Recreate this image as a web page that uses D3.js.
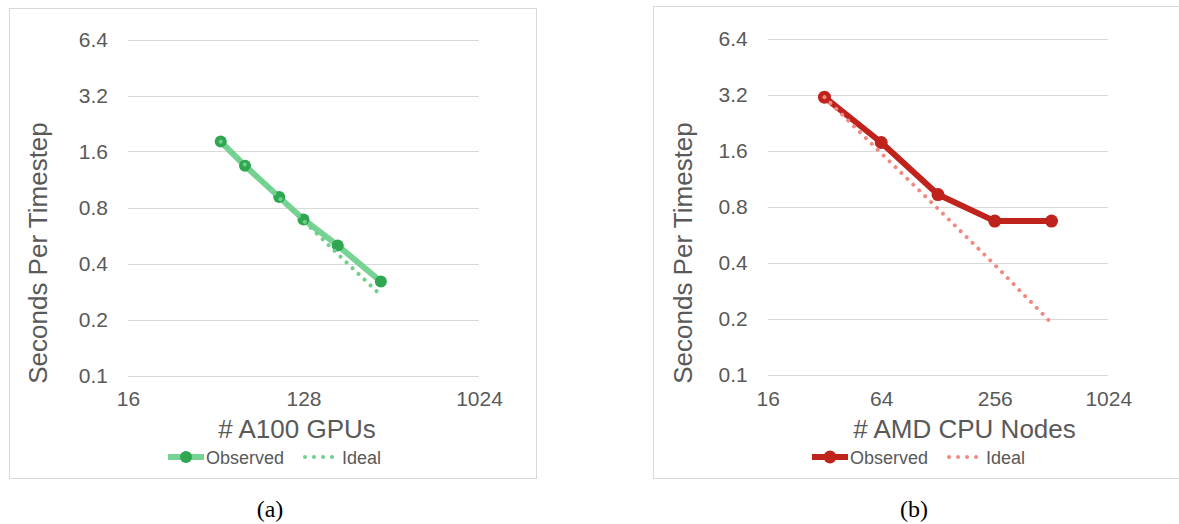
<!DOCTYPE html>
<html>
<head>
<meta charset="utf-8">
<script src="https://cdn.jsdelivr.net/npm/d3@7"></script>
<style>
  body { margin: 0; background: #fff; }
  text { font-family: "Liberation Sans", Arial, sans-serif; fill: #595959; }
  .caption { font-family: "Liberation Serif", "DejaVu Serif", serif; fill: #000; }
</style>
</head>
<body>
<div id="chart"></div>
<script>
// ---- data ----
const yTicks = [0.1, 0.2, 0.4, 0.8, 1.6, 3.2, 6.4];

// (a) A100 GPUs
const gpuCounts   = [48, 64, 96, 128, 192, 320];
const gpuObserved = [1.81, 1.34, 0.91, 0.69, 0.50, 0.32];
const gpuIdeal    = [1.81, 1.36, 0.90, 0.68, 0.45, 0.27];
const gpuXTicks   = [16, 128, 1024];

// (b) AMD CPU nodes
const cpuCounts   = [32, 64, 128, 256, 512];
const cpuObserved = [3.1, 1.77, 0.93, 0.67, 0.67];
const cpuIdeal    = [3.1, 1.55, 0.78, 0.39, 0.19];
const cpuXTicks   = [16, 64, 256, 1024];

const svg = d3.select("#chart")
  .append("svg")
    .attr("width", 1179)
    .attr("height", 524);

function drawPanel(p) {
  const g = svg.append("g");

  // panel frame
  g.append("rect")
    .attr("x", p.box[0] + 0.5).attr("y", p.box[1] + 0.5)
    .attr("width", p.box[2] - p.box[0]).attr("height", p.box[3] - p.box[1])
    .attr("fill", "#fff")
    .attr("stroke", "#d9d9d9")
    .attr("stroke-width", 1);

  const x = d3.scaleLog().base(2)
    .domain([16, 1024])
    .range([p.left, p.right]);
  const y = d3.scaleLog().base(2)
    .domain([0.1, 6.4])
    .range([p.bottom, p.top]);

  // horizontal gridlines
  g.selectAll(".grid")
    .data(yTicks)
    .join("line")
      .attr("x1", p.left).attr("x2", p.right)
      .attr("y1", d => Math.round(y(d)) + 0.5)
      .attr("y2", d => Math.round(y(d)) + 0.5)
      .attr("stroke", "#d9d9d9")
      .attr("stroke-width", 1);

  // Y axis labels
  const yAxis = g.append("g")
    .attr("transform", `translate(${p.left},0)`)
    .call(d3.axisLeft(y).tickValues(yTicks).tickFormat(d3.format(".1f")).tickSize(0).tickPadding(20));
  yAxis.select(".domain").remove();
  yAxis.selectAll("text")
    .style("font-size", "21px")
    .style("font-family", "'Liberation Sans', Arial, sans-serif")
    .attr("fill", "#595959");

  // X axis labels
  const xAxis = g.append("g")
    .attr("transform", `translate(0,${p.bottom})`)
    .call(d3.axisBottom(x).tickValues(p.xTicks).tickFormat(d3.format("d")).tickSize(0).tickPadding(16));
  xAxis.select(".domain").remove();
  xAxis.selectAll("text")
    .style("font-size", "21px")
    .style("font-family", "'Liberation Sans', Arial, sans-serif")
    .attr("fill", "#595959");

  // axis titles
  g.append("text")
    .attr("transform", `translate(${p.yTitleX},253) rotate(-90)`)
    .attr("text-anchor", "middle")
    .style("font-size", "26px")
    .text("Seconds Per Timestep");

  g.append("text")
    .attr("x", p.xTitleX)
    .attr("y", 438)
    .attr("text-anchor", "middle")
    .style("font-size", "26px")
    .text(p.xTitle);

  const obs = p.counts.map((c, i) => ({ n: c, v: p.observed[i] }));
  const ideal = p.counts.map((c, i) => ({ n: c, v: p.ideal[i] }));
  const line = d3.line().x(d => x(d.n)).y(d => y(d.v));

  // observed line + markers
  g.append("path")
    .datum(obs)
    .attr("fill", "none")
    .attr("stroke", p.lineColor)
    .attr("stroke-width", p.lineWidth)
    .attr("stroke-linejoin", "round")
    .attr("d", line);

  g.selectAll(".pt")
    .data(obs)
    .join("circle")
      .attr("cx", d => x(d.n))
      .attr("cy", d => y(d.v))
      .attr("r", p.markerR)
      .attr("fill", p.markerColor);

  // ideal dotted line on top
  g.append("path")
    .datum(ideal)
    .attr("fill", "none")
    .attr("stroke", p.idealColor)
    .attr("stroke-width", 4)
    .attr("stroke-linecap", "round")
    .attr("stroke-dasharray", "0.01 8.3")
    .attr("d", line);

  // legend
  const ly = 457;
  const lx = p.legendX;
  g.append("line")
    .attr("x1", lx).attr("x2", lx + 36)
    .attr("y1", ly).attr("y2", ly)
    .attr("stroke", p.lineColor)
    .attr("stroke-width", p.lineWidth);
  g.append("circle")
    .attr("cx", lx + 18).attr("cy", ly)
    .attr("r", p.markerR)
    .attr("fill", p.markerColor);
  g.append("text")
    .attr("x", lx + 38).attr("y", ly + 6.5)
    .style("font-size", "18px")
    .text("Observed");
  g.append("line")
    .attr("x1", lx + 137).attr("x2", lx + 171)
    .attr("y1", ly).attr("y2", ly)
    .attr("stroke", p.idealColor)
    .attr("stroke-width", 4)
    .attr("stroke-linecap", "round")
    .attr("stroke-dasharray", "0.01 9");
  g.append("text")
    .attr("x", lx + 174).attr("y", ly + 6.5)
    .style("font-size", "18px")
    .text("Ideal");

  // caption
  svg.append("text")
    .attr("class", "caption")
    .attr("x", p.captionX)
    .attr("y", 517)
    .attr("text-anchor", "middle")
    .style("font-size", "24px")
    .text(p.caption);
}

drawPanel({
  box: [9, 8, 536, 478],
  left: 128, right: 479, top: 39.5, bottom: 375.5,
  xTicks: gpuXTicks,
  counts: gpuCounts, observed: gpuObserved, ideal: gpuIdeal,
  xTitle: "# A100 GPUs", xTitleX: 297, yTitleX: 47,
  lineColor: "#77d394", markerColor: "#2fa650", idealColor: "#6fd08c",
  lineWidth: 6, markerR: 6,
  legendX: 168, captionX: 270, caption: "(a)"
});

drawPanel({
  box: [653, 6, 1185, 478],
  left: 767.7, right: 1108.3, top: 38.5, bottom: 375,
  xTicks: cpuXTicks,
  counts: cpuCounts, observed: cpuObserved, ideal: cpuIdeal,
  xTitle: "# AMD CPU Nodes", xTitleX: 964.5, yTitleX: 692,
  lineColor: "#c0231b", markerColor: "#c0231b", idealColor: "#f28a84",
  lineWidth: 6, markerR: 6.5,
  legendX: 812, captionX: 914, caption: "(b)"
});
</script>
</body>
</html>
